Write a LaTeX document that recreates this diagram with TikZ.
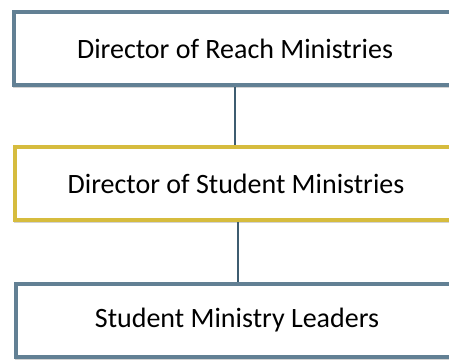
\documentclass[tikz,border=0pt]{standalone}
\usepackage{fontspec}
\setmainfont{Carlito}
\usetikzlibrary{positioning,shadows}

\definecolor{boxblue}{RGB}{98,128,148}
\definecolor{boxgold}{RGB}{214,188,62}
\definecolor{linkblue}{RGB}{62,92,112}

\tikzset{
  orgbox/.style={draw=boxblue, line width=4pt, fill=white, rectangle,
    minimum width=442pt, minimum height=73pt, inner sep=0pt,
    font=\fontsize{28}{32}\selectfont,
    drop shadow={shadow xshift=-1.5pt, shadow yshift=-2.5pt, opacity=0.35}},
  link/.style={draw=linkblue, line width=2pt}
}

\begin{document}
\begin{tikzpicture}[x=1pt, y=-1pt]
    \useasboundingbox (0,0) rectangle (449,360);

    \node (reach) [orgbox] at (235,48.5) {Director of Reach Ministries};
    \node (student) [orgbox, draw=boxgold] at (236,183.5) {Director of Student Ministries};
    \node (leaders) [orgbox] at (237,320.5) {Student Ministry Leaders};

    \path [link]
        (reach.south) -- (reach.south |- student.north)
        (student.south -| 238,0) -- (leaders.north -| 238,0);
\end{tikzpicture}
\end{document}
